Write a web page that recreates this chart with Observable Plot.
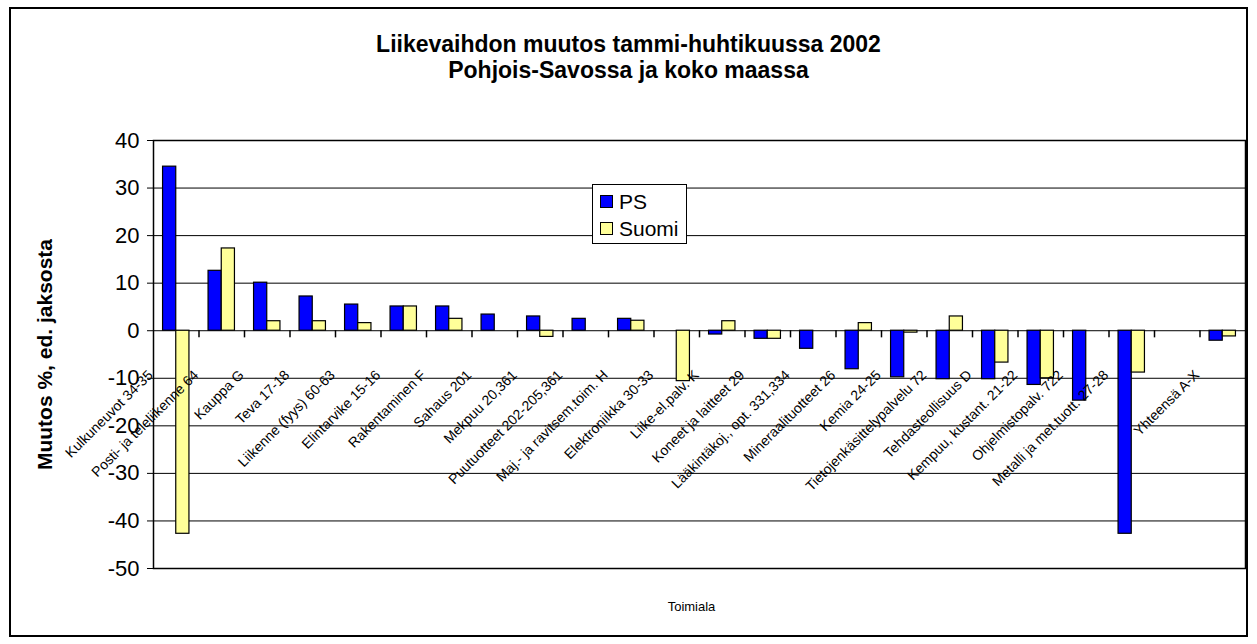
<!DOCTYPE html>
<html>
<head>
<meta charset="utf-8">
<script src="https://cdn.jsdelivr.net/npm/d3@7"></script>
<script src="https://cdn.jsdelivr.net/npm/@observablehq/plot@0.6"></script>
<style>
  body { margin: 0; background: #fff; font-family: "Liberation Sans", Arial, sans-serif; }
  #wrap { position: relative; width: 1257px; height: 644px; overflow: hidden; }
  #border { position: absolute; left: 9px; top: 7px; width: 1235px; height: 626px; border: 2px solid #000; }
  #title { position: absolute; left: 0; top: 31px; width: 1257px; text-align: center; font-weight: bold; font-size: 23px; line-height: 26px; color: #000; }
  #chart { position: absolute; left: 0; top: 0; }
  #legend { position: absolute; left: 592px; top: 184px; width: 93px; height: 58px; border: 1px solid #000; background: #fff; font-size: 21px; }
  .item { position: absolute; left: 7px; height: 24px; line-height: 24px; white-space: nowrap; }
  .sw { display: inline-block; width: 11px; height: 11px; border: 1px solid #000; margin-right: 6px; vertical-align: 1px; }
</style>
</head>
<body>
<div id="wrap">
  <div id="border"></div>
  <div id="title">Liikevaihdon muutos tammi-huhtikuussa 2002<br>Pohjois-Savossa ja koko maassa</div>
  <div id="chart"></div>
  <div id="legend">
    <div class="item" style="top:5px"><span class="sw" style="background:#0000FF"></span>PS</div>
    <div class="item" style="top:32px"><span class="sw" style="background:#FFFF99"></span>Suomi</div>
  </div>
</div>
<script>
const categories = [
  "Kulkuneuvot 34-35",
  "Posti- ja teleliikenne 64",
  "Kauppa G",
  "Teva 17-18",
  "Liikenne (fyys) 60-63",
  "Elintarvike 15-16",
  "Rakentaminen F",
  "Sahaus 201",
  "Mekpuu 20,361",
  "Puutuotteet 202-205,361",
  "Maj.- ja ravitsem.toim. H",
  "Elektroniikka 30-33",
  "Liike-el.palv. K",
  "Koneet ja laitteet 29",
  "Lääkintäkoj., opt. 331,334",
  "Mineraalituotteet 26",
  "Kemia 24-25",
  "Tietojenkäsittelypalvelu 72",
  "Tehdasteollisuus D",
  "Kempuu, kustant. 21-22",
  "Ohjelmistopalv. 722",
  "Metalli ja met.tuott. 27-28",
  "",
  "Yhteensä A-X"
];
const psValues = [34.5, 12.6, 10.1, 7.2, 5.5, 5.1, 5.1, 3.4, 3.0, 2.5, 2.5, null, -0.8, -1.7, -3.8, -8.1, -9.8, -10.2, -10.2, -11.4, -14.7, -42.7, null, -2.1];
const suomiValues = [-42.7, 17.3, 2.0, 2.0, 1.6, 5.1, 2.5, null, -1.3, null, 2.1, -10.6, 2.0, -1.7, null, 1.6, -0.4, 3.0, -6.7, -10.0, null, -8.8, null, -1.2];
const yTicks = [-50, -40, -30, -20, -10, 0, 10, 20, 30, 40];
const seriesNames = ["PS", "Suomi"];
const seriesColors = ["#0000FF", "#FFFF99"];
const yTitle = "Muutos %, ed. jaksosta";
const xTitle = "Toimiala";

const rows = categories.map((c, i) => ({cat: c, ps: psValues[i], suomi: suomiValues[i]}));

const W = 1257, H = 644;
const mL = 153, mR = 12, mT = 140, mB = 76;
const step = (W - mL - mR) / categories.length;
const pIn = 0.42;
const half = step * (1 - pIn) / 2;

const chart = Plot.plot({
  width: W,
  height: H,
  marginLeft: mL,
  marginRight: mR,
  marginTop: mT,
  marginBottom: mB,
  style: {fontFamily: "Liberation Sans, Arial, sans-serif", fontSize: "14px", color: "#000", background: "transparent"},
  x: {type: "band", domain: categories, paddingInner: pIn, paddingOuter: pIn / 2, round: false, axis: null},
  y: {domain: [-50, 40], axis: null},
  marks: [
    Plot.gridY(yTicks, {stroke: "#000", strokeOpacity: 1, strokeWidth: 1}),
    Plot.barY(rows, {x: "cat", y: "ps", fill: seriesColors[0], stroke: "#000", strokeWidth: 1.2, insetRight: half}),
    Plot.barY(rows, {x: "cat", y: "suomi", fill: seriesColors[1], stroke: "#000", strokeWidth: 1.2, insetLeft: half}),
    Plot.frame({stroke: "#000", strokeWidth: 1.5}),
    Plot.ruleX(categories.slice(1), {x: d => d, y1: 0, y2: -1.5, dx: -step / 2, stroke: "#000", strokeWidth: 1.5}),
    Plot.axisY(yTicks, {tickSize: 6, tickPadding: 8, fontSize: 22, stroke: "#000", label: null, tickFormat: d => String(d)}),
    Plot.text(categories, {x: d => d, y: () => 0, text: d => d, rotate: -45, textAnchor: "end", dx: -step / 2 - 3, dy: 42, fontSize: 14, letterSpacing: "-1px", fill: "#000"}),
    Plot.text([yTitle], {frameAnchor: "left", textAnchor: "middle", rotate: -90, dx: -108, fontSize: 21, fontWeight: "bold", fill: "#000"}),
    Plot.text([xTitle], {frameAnchor: "bottom", textAnchor: "middle", dy: 42, dx: -8, fontSize: 13, fill: "#000"})
  ]
});
document.getElementById("chart").appendChild(chart);
</script>
</body>
</html>
